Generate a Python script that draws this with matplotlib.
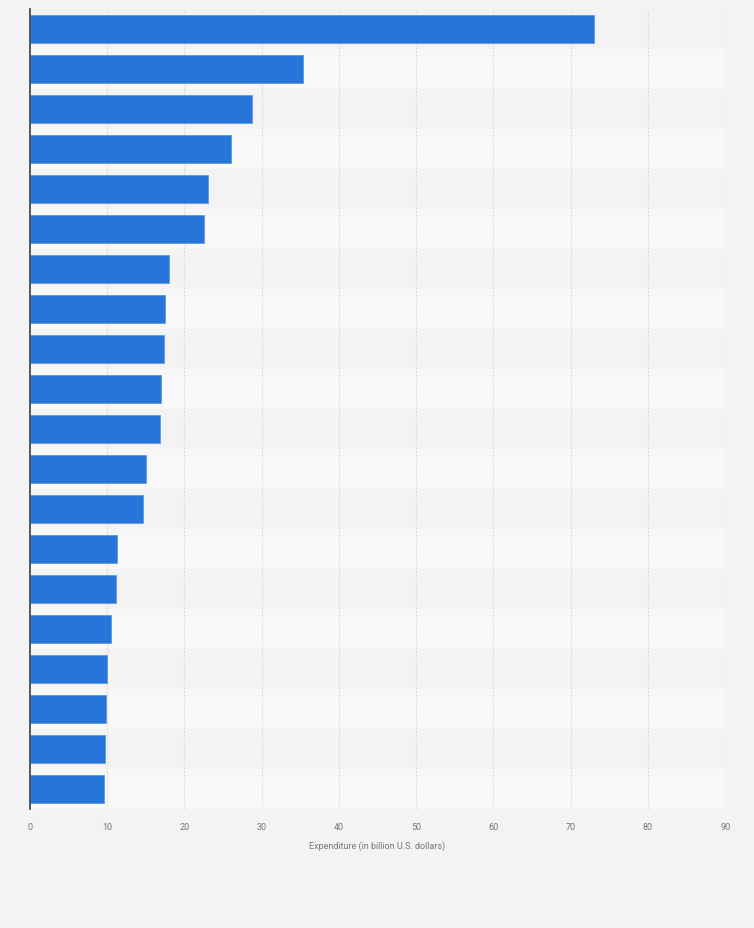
import matplotlib
matplotlib.use("Agg")
import numpy as np
import matplotlib.pyplot as plt

# expenditure per bar, top to bottom (billion U.S. dollars)
values = [73.0, 35.3, 28.7, 26.1, 23.1, 22.6, 18.0, 17.5, 17.4, 17.0,
          16.9, 15.1, 14.6, 11.3, 11.1, 10.5, 10.0, 9.9, 9.7, 9.6]
xticks = [0, 10, 20, 30, 40, 50, 60, 70, 80, 90]
xlabel = "Expenditure (in billion U.S. dollars)"

bg = "#f3f3f3"
band_light = "#f8f8f8"
bar_color = "#2775d9"

plt.rcParams['font.family'] = ['Roboto', 'DejaVu Sans']

fig = plt.figure(figsize=(7.54, 9.29), dpi=100, facecolor=bg)
ax = fig.add_axes([0.0394, 0.128, 0.9226, 0.861])
ax.set_facecolor(bg)

n = len(values)
y = np.arange(n)

# alternating row bands
for i in y:
    if i % 2 == 1:
        ax.axhspan(i - 0.5, i + 0.5, color=band_light, zorder=0, lw=0)

ax.barh(y, values, height=0.7, color=bar_color, edgecolor="#5b98e6",
        linewidth=0.6, zorder=3)

ax.set_xlim(0, 90)
ax.set_ylim(n - 0.5, -0.5)
ax.set_xticks(xticks)
ax.set_xticklabels([str(t) for t in xticks], fontsize=6.5, color="#777777")
ax.set_yticks([])
ax.tick_params(axis='x', length=0, pad=9)

for t in xticks[1:]:
    ax.axvline(t, color="#d8d8d8", lw=0.8, ls=(0, (1.5, 1.5)), zorder=1)

for s in ['top', 'right', 'bottom']:
    ax.spines[s].set_visible(False)
ax.spines['left'].set_color("#4a4a4a")
ax.spines['left'].set_linewidth(1.3)
ax.spines['left'].set_zorder(4)

ax.set_xlabel(xlabel, fontsize=6.5, color="#777777", labelpad=7)

fig.savefig("out.png", dpi=100, facecolor=bg)
